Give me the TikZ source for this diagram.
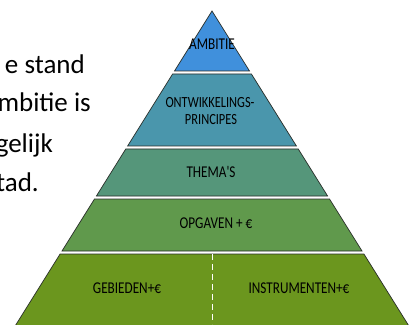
\documentclass[tikz,border=0pt]{standalone}
\usepackage{fontspec}
\setmainfont{Carlito}
\newfontfamily\handfont[FakeStretch=0.8]{Carlito}
\definecolor{cAmb}{RGB}{64,144,220}
\definecolor{cOnt}{RGB}{74,150,172}
\definecolor{cThe}{RGB}{85,150,122}
\definecolor{cOpg}{RGB}{96,153,76}
\definecolor{cGeb}{RGB}{107,150,30}
\definecolor{cEdge}{RGB}{40,45,40}
\tikzset{
  band/.style={draw=cEdge, line width=0.7pt, line join=miter},
  lbl/.style={font=\handfont\fontsize{16.5}{13.5}\selectfont, text=black, align=center, inner sep=0pt},
  bodytext/.style={font=\fontsize{27}{30}\selectfont, anchor=base east, inner sep=0pt, text=black}
}
\begin{document}
\begin{tikzpicture}[x=1pt,y=1pt]
\useasboundingbox (0,0) rectangle (414,324);
\clip (0,0) rectangle (414,324);
\fill[white] (0,0) rectangle (414,324);
% left text (cut off at the left edge, as in the reference)
\node[bodytext] (t1) at (85,250) {e stand};
\node[bodytext] (t2) at (91,212) {mbitie is};
\node[bodytext] (t3) at (53,171) {gelijk};
\node[bodytext] (t4) at (39,133) {tad.};
% pyramid bands
\draw[band, fill=cAmb] (212,313) -- (249.5,253) -- (174.5,253) -- cycle;
\draw[band, fill=cOnt] (172.6,250) -- (251.4,250) -- (296.4,178) -- (127.6,178) -- cycle;
\draw[band, fill=cThe] (125.75,175) -- (298.25,175) -- (327.6,128) -- (96.4,128) -- cycle;
\draw[band, fill=cOpg] (94.5,125) -- (329.5,125) -- (362,73) -- (62,73) -- cycle;
\draw[band, fill=cGeb] (60.1,70) -- (363.9,70) -- (411.4,-6) -- (12.6,-6) -- cycle;
% dashed divider
\coordinate (dtop) at (212.5,70);
\coordinate (dbot) at (212.5,0);
\draw[white, line width=1.6pt, dash pattern=on 6pt off 4pt] (dtop) -- (dbot);
% labels
\node[lbl] (amb) at (212,280) {AMBITIE};
\node[lbl, font=\handfont\fontsize{15.5}{13}\selectfont] (ont1) at (210,221) {ONTWIKKELINGS-};
\node[lbl, font=\handfont\fontsize{15.5}{13}\selectfont] (ont2) at (211,204.5) {PRINCIPES};
\node[lbl] (the) at (211,152) {THEMA'S};
\node[lbl] (opg) at (216,101) {OPGAVEN + €};
\node[lbl] (geb) at (127,36) {GEBIEDEN+€};
\node[lbl] (ins) at (299,36) {INSTRUMENTEN+€};
\end{tikzpicture}
\end{document}
